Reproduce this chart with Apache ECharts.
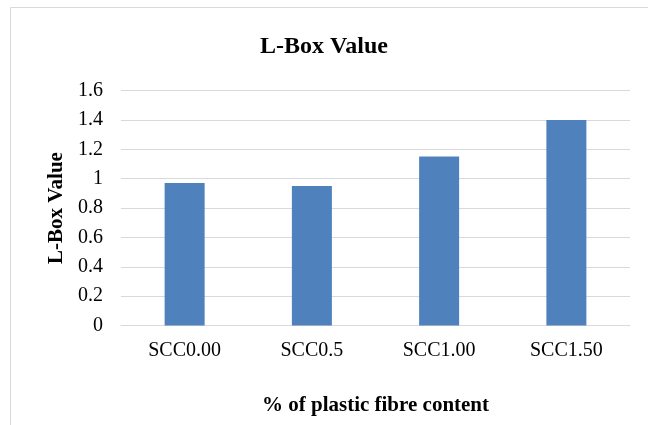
<!DOCTYPE html>
<html>
<head>
<meta charset="utf-8">
<script src="https://cdn.jsdelivr.net/npm/echarts@6/dist/echarts.min.js"></script>
<style>
  html, body { margin: 0; padding: 0; background: #fff; }
  #chart { width: 648px; height: 425px; }
</style>
</head>
<body>
<div id="chart"></div>
<script>
// L-Box test results for each fibre dosage
const categories = ['SCC0.00', 'SCC0.5', 'SCC1.00', 'SCC1.50'];
const lboxValues = [0.97, 0.95, 1.15, 1.40];
const yTicks = [0, 0.2, 0.4, 0.6, 0.8, 1, 1.2, 1.4, 1.6];

const serif = '"Liberation Serif", "Times New Roman", serif';
const chart = echarts.init(document.getElementById('chart'), null, { renderer: 'canvas' });

chart.setOption({
  animation: false,
  backgroundColor: '#fff',
  graphic: [{
    type: 'rect',
    shape: { x: 10.5, y: 7.5, width: 700, height: 500 },
    style: { fill: 'none', stroke: '#d9d9d9', lineWidth: 1 },
    silent: true
  }],
  title: {
    text: 'L-Box Value',
    left: 'center',
    top: 30,
    textStyle: { fontFamily: serif, fontWeight: 'bold', fontSize: 24, color: '#000' }
  },
  grid: { left: 121, right: 18, top: 90.5, bottom: 99.5 },
  xAxis: {
    type: 'category',
    data: categories,
    name: '% of plastic fibre content',
    nameLocation: 'middle',
    nameGap: 70,
    nameTextStyle: { fontFamily: serif, fontWeight: 'bold', fontSize: 21, color: '#000' },
    axisLine: { lineStyle: { color: '#d9d9d9' } },
    axisTick: { show: false },
    axisLabel: { fontFamily: serif, fontSize: 20, color: '#000', margin: 15 }
  },
  yAxis: {
    type: 'value',
    min: yTicks[0],
    max: yTicks[yTicks.length - 1],
    interval: 0.2,
    name: 'L-Box Value',
    nameLocation: 'middle',
    nameGap: 52,
    nameTextStyle: { fontFamily: serif, fontWeight: 'bold', fontSize: 21, color: '#000' },
    axisLine: { show: false },
    axisTick: { show: false },
    splitLine: { lineStyle: { color: '#d9d9d9' } },
    axisLabel: {
      fontFamily: serif, fontSize: 20, color: '#000', margin: 18,
      formatter: v => String(Math.round(v * 10) / 10)
    }
  },
  series: [{
    type: 'bar',
    data: lboxValues,
    barWidth: 40,
    itemStyle: { color: '#4f81bd' }
  }]
});
</script>
</body>
</html>
